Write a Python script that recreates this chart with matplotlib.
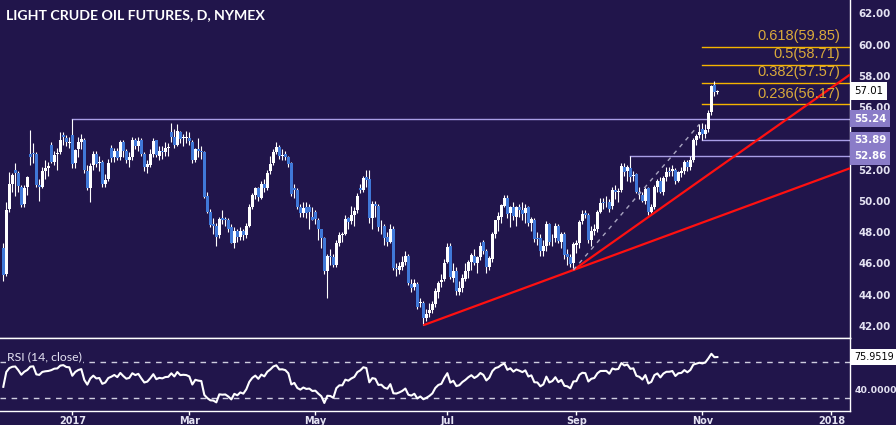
import matplotlib
matplotlib.use("Agg")
import matplotlib.pyplot as plt
import matplotlib.transforms as mtransforms
import numpy as np

# ---------------- data (daily bars, Nov 29 2016 .. Nov 8 2017) ----------------
OPEN = [47.0, 45.3, 49.5, 51.1, 52.0, 51.8, 50.9, 49.8, 50.9, 53.0,
        53.0, 53.0, 51.0, 50.9, 51.9, 52.1, 53.6, 52.5, 53.0, 53.1,
        54.2, 54.0, 53.7, 54.2, 52.4, 53.3, 53.8, 53.9, 51.9, 50.8,
        52.3, 53.0, 52.4, 52.5, 51.1, 51.4, 53.4, 52.8, 53.2, 52.8,
        53.8, 53.2, 52.6, 52.8, 53.9, 53.5, 53.9, 53.0, 52.2, 52.3,
        53.0, 53.9, 52.9, 53.2, 53.1, 53.4, 54.4, 54.1, 53.6, 54.4,
        54.0, 54.0, 54.0, 53.8, 52.6, 53.3, 53.2, 53.1, 50.3, 49.3,
        48.5, 48.4, 47.8, 48.9, 48.8, 48.8, 48.3, 47.3, 48.1, 47.7,
        48.1, 47.8, 48.4, 49.6, 50.4, 50.8, 50.2, 51.1, 50.8, 51.9,
        52.4, 53.15, 53.45, 52.9, 53.0, 52.8, 52.4, 50.8, 50.7, 49.6,
        49.2, 49.6, 49.6, 49.0, 49.3, 48.8, 48.2, 47.6, 45.5, 46.5,
        46.4, 45.9, 47.3, 47.8, 47.9, 48.9, 48.7, 49.1, 49.4, 50.8,
        50.7, 51.5, 51.4, 48.9, 49.8, 49.7, 48.3, 48.4, 47.7, 47.4,
        48.2, 45.7, 45.6, 45.8, 46.1, 46.5, 44.7, 44.5, 44.7, 43.5,
        43.5, 42.5, 42.8, 43.0, 43.4, 44.2, 44.8, 45.0, 46.1, 47.1,
        45.1, 45.5, 44.2, 44.4, 45.0, 45.5, 46.1, 46.5, 46.0, 46.4,
        47.4, 46.8, 45.8, 46.3, 47.9, 48.8, 49.0, 49.7, 50.2, 49.2,
        49.6, 49.0, 49.6, 49.4, 49.2, 49.6, 48.6, 48.8, 47.6, 47.6,
        46.8, 47.1, 48.5, 47.6, 47.6, 48.4, 47.4, 47.9, 46.6, 46.4,
        46.0, 47.2, 47.3, 48.7, 49.2, 49.1, 47.5, 48.1, 48.2, 49.3,
        49.9, 49.9, 49.9, 49.7, 50.7, 50.6, 50.7, 52.2, 51.9, 52.1,
        51.6, 51.7, 50.6, 50.4, 50.0, 50.8, 49.3, 49.6, 50.9, 51.3,
        50.6, 51.5, 51.9, 51.9, 52.0, 51.3, 51.8, 51.9, 52.5, 52.2,
        52.6, 53.9, 54.2, 54.6, 54.3, 54.6, 55.7, 57.4, 56.95]
HIGH = [47.3, 49.9, 51.85, 51.8, 52.45, 51.9, 51.0, 51.0, 51.6, 54.51,
        53.7, 53.1, 51.4, 52.2, 52.6, 52.5, 53.75, 53.2, 53.4, 54.4,
        54.4, 54.2, 54.1, 55.24, 53.3, 54.1, 54.3, 54.0, 52.3, 52.4,
        53.2, 53.2, 52.9, 52.6, 51.7, 52.7, 53.6, 53.4, 53.4, 53.9,
        53.9, 53.3, 53.1, 54.1, 54.0, 54.1, 54.0, 53.1, 52.6, 53.3,
        54.0, 53.9, 53.5, 53.5, 53.8, 53.7, 55.0, 54.6, 54.9, 54.5,
        54.3, 54.5, 54.4, 53.9, 53.4, 54.0, 53.5, 53.2, 50.6, 49.5,
        48.9, 48.6, 49.0, 49.4, 49.0, 48.9, 48.5, 48.3, 48.2, 48.3,
        48.2, 48.6, 49.8, 50.5, 50.9, 50.9, 51.3, 51.4, 52.0, 52.9,
        53.3, 53.8, 53.6, 53.3, 53.2, 52.9, 52.5, 51.1, 50.8, 49.8,
        49.9, 49.9, 49.8, 49.6, 49.4, 48.9, 48.0, 47.7, 46.6, 46.9,
        46.6, 47.5, 48.0, 48.0, 49.1, 49.0, 49.7, 49.6, 50.5, 51.1,
        51.6, 52.0, 52.0, 50.0, 50.0, 49.8, 48.8, 48.5, 48.0, 48.5,
        48.4, 46.0, 46.1, 46.5, 46.8, 46.6, 45.0, 45.0, 44.8, 43.8,
        43.6, 43.1, 43.5, 43.6, 44.4, 44.9, 45.3, 46.3, 47.3, 47.3,
        46.0, 45.8, 44.9, 45.3, 46.0, 46.2, 46.7, 46.9, 46.5, 47.4,
        47.5, 46.9, 46.5, 48.0, 48.8, 49.3, 49.8, 50.4, 50.4, 49.7,
        49.9, 49.7, 49.8, 49.9, 49.8, 49.7, 49.0, 48.9, 48.0, 47.9,
        47.5, 48.7, 48.6, 47.9, 48.6, 48.5, 48.0, 48.0, 46.9, 46.6,
        47.4, 47.5, 48.8, 49.4, 49.4, 49.2, 48.4, 48.5, 49.4, 50.2,
        50.2, 50.3, 50.1, 50.9, 51.0, 50.8, 52.4, 52.4, 52.3, 52.86,
        51.9, 51.8, 50.9, 50.6, 50.9, 50.9, 49.8, 51.0, 51.4, 51.5,
        51.6, 52.2, 52.2, 52.3, 52.1, 51.9, 52.2, 52.6, 52.6, 52.9,
        54.0, 54.3, 54.9, 55.0, 54.9, 55.8, 57.4, 57.69, 57.1]
LOW = [44.9, 45.2, 49.3, 50.6, 50.3, 50.6, 49.6, 49.6, 50.4, 52.3,
       52.4, 50.9, 50.0, 50.8, 51.4, 51.6, 52.4, 52.3, 52.0, 53.0,
       53.6, 53.5, 53.4, 52.1, 52.1, 52.8, 53.3, 51.8, 50.7, 49.9,
       52.0, 52.2, 51.9, 50.9, 50.9, 51.3, 52.5, 52.5, 52.6, 52.6,
       52.8, 52.4, 52.2, 52.6, 53.3, 53.2, 52.9, 51.9, 51.8, 52.2,
       52.8, 52.8, 52.6, 52.7, 52.9, 52.9, 53.8, 53.4, 53.5, 53.7,
       53.5, 53.7, 53.6, 52.4, 52.5, 52.8, 52.7, 50.2, 49.2, 48.3,
       47.9, 47.1, 47.6, 48.5, 48.4, 48.0, 47.3, 47.0, 47.4, 47.5,
       47.5, 47.6, 48.3, 49.5, 50.1, 50.0, 50.1, 50.6, 50.7, 51.7,
       52.3, 53.0, 52.7, 52.6, 52.6, 52.2, 50.3, 50.2, 49.5, 49.0,
       49.0, 48.9, 48.2, 48.8, 48.5, 47.5, 47.0, 45.3, 43.76, 45.9,
       45.8, 45.8, 47.1, 47.4, 47.8, 48.2, 48.5, 48.4, 49.2, 50.5,
       50.6, 50.9, 48.6, 48.2, 49.0, 48.1, 47.9, 47.2, 47.1, 47.3,
       45.6, 45.2, 45.3, 45.6, 45.9, 44.6, 44.2, 44.3, 43.1, 43.2,
       42.05, 42.3, 42.6, 42.8, 43.2, 43.8, 44.5, 44.9, 46.0, 45.0,
       44.8, 44.0, 44.0, 44.2, 44.9, 45.1, 45.6, 45.9, 45.4, 46.2,
       46.6, 45.4, 45.6, 46.1, 47.6, 48.1, 48.6, 49.6, 48.9, 48.3,
       48.8, 48.4, 49.0, 48.8, 48.6, 48.4, 48.1, 47.4, 47.2, 46.5,
       46.5, 46.8, 47.2, 47.1, 47.4, 47.3, 47.0, 46.3, 45.9, 45.8,
       45.58, 46.7, 47.0, 48.5, 48.9, 47.3, 47.1, 47.8, 48.0, 49.2,
       49.5, 49.6, 49.3, 49.5, 50.1, 49.9, 50.6, 51.6, 51.3, 51.2,
       51.3, 50.5, 50.1, 49.9, 49.8, 49.1, 49.2, 49.5, 50.6, 50.5,
       50.4, 51.3, 51.6, 51.6, 51.1, 51.2, 51.5, 51.7, 51.9, 52.0,
       52.5, 53.6, 54.0, 53.89, 54.0, 54.4, 55.5, 56.7, 56.85]
CLOSE = [45.23, 49.44, 51.06, 51.68, 51.79, 50.93, 49.77, 50.84, 51.50, 52.83,
         52.98, 51.04, 50.90, 51.90, 52.12, 52.23, 52.49, 52.95, 53.02, 53.90,
         54.06, 53.77, 53.72, 52.33, 53.26, 53.76, 53.99, 51.96, 50.82, 52.25,
         53.01, 52.37, 52.48, 51.08, 51.37, 52.42, 52.75, 53.18, 52.75, 53.78,
         53.17, 52.63, 52.81, 53.88, 53.54, 53.83, 53.01, 52.17, 52.34, 53.00,
         53.86, 52.93, 53.20, 53.11, 53.36, 53.40, 54.06, 53.59, 54.45, 53.99,
         54.05, 54.01, 53.83, 52.61, 53.33, 53.20, 53.14, 50.28, 49.28, 48.49,
         48.40, 47.72, 48.86, 48.75, 48.78, 48.22, 47.34, 48.10, 47.70, 48.10,
         47.80, 48.40, 49.60, 50.35, 50.80, 50.24, 51.10, 50.80, 51.80, 52.36,
         53.15, 53.47, 52.87, 52.90, 52.79, 52.36, 50.44, 50.71, 49.62, 49.23,
         49.56, 49.25, 49.30, 48.80, 48.84, 48.20, 47.60, 45.52, 46.50, 46.43,
         45.88, 47.33, 47.83, 47.84, 48.85, 48.66, 49.07, 49.35, 50.33, 50.73,
         51.47, 51.36, 48.90, 49.80, 49.66, 48.32, 48.36, 47.66, 47.40, 48.19,
         45.72, 45.64, 45.83, 46.08, 46.46, 44.73, 44.46, 44.74, 43.20, 43.51,
         42.53, 42.74, 43.01, 43.38, 44.24, 44.74, 44.93, 46.04, 47.07, 45.13,
         45.52, 44.23, 44.40, 45.04, 45.49, 46.08, 46.54, 46.02, 46.40, 47.12,
         46.79, 45.77, 46.34, 47.89, 48.75, 49.04, 49.71, 50.17, 49.16, 49.59,
         49.03, 49.58, 49.39, 49.17, 49.56, 48.59, 48.82, 47.59, 47.55, 46.78,
         47.09, 48.51, 47.37, 47.64, 48.41, 47.43, 47.87, 46.57, 46.44, 45.96,
         47.23, 47.29, 48.66, 49.16, 49.09, 47.48, 48.07, 48.23, 49.30, 49.89,
         49.89, 49.91, 49.48, 50.69, 50.55, 50.66, 52.22, 51.88, 52.14, 51.56,
         51.67, 50.58, 50.42, 49.98, 50.79, 49.29, 49.58, 50.92, 51.30, 50.60,
         51.45, 51.87, 51.88, 52.04, 51.29, 51.84, 51.90, 52.47, 52.18, 52.64,
         53.90, 54.15, 54.38, 54.30, 54.54, 55.64, 57.35, 56.95, 57.01]

X_TICK_BARS = [23, 62, 104, 148, 191, 233, 276]
X_TICK_LABELS = ['2017', 'Mar', 'May', 'Jul', 'Sep', 'Nov', '2018']
PRICE_TICKS = [42, 44, 46, 48, 50, 52, 56, 58, 60, 62]   # 54.00 is hidden under the level boxes

LEVELS = [55.24, 53.89, 52.86]
LEVEL_START = [23, 233, 209]
FIB_RATIOS = ['0.236', '0.382', '0.5', '0.618']
FIB_PRICES = [56.17, 57.57, 58.71, 59.85]
FIB_START = 233
TREND1 = [(140, 42.05), (190, 45.58)]
TREND2 = [(190, 45.58), (215, 48.97)]
DASHED = [(190, 45.58), (232, 54.90)]
LAST_PRICE = 57.01
RSI_LAST = 75.9519
RSI_SEED = (0.34, 0.46)   # avg gain / avg loss carried in from before the window

# ---------------- style ----------------
BG = '#21154b'
UP = '#ffffff'
DOWN = '#4078d8'
TXT = '#e4e2f2'
LVL_LINE = '#a99ee6'
LVL_BOX = '#8a7cc8'
FIB_LINE = '#f5b400'
FIB_TXT = '#d9a93b'
NUMFONT = 'DejaVu Sans'

W, H = 896, 425
fig = plt.figure(figsize=(W / 100, H / 100), dpi=100, facecolor=BG)
ax = fig.add_axes([0, 1 - 338 / H, 850 / W, 338 / H], facecolor=BG)
ar = fig.add_axes([0, 1 - 411 / H, 850 / W, 73 / H], facecolor=BG, sharex=ax)

n = len(CLOSE)
x = np.arange(n)
o = np.array(OPEN); c = np.array(CLOSE); hi = np.array(HIGH); lo = np.array(LOW)
up = c >= o
cols = np.where(up, UP, DOWN)
ax.vlines(x, lo, hi, colors='#ffffff', lw=0.8, zorder=3)
body = np.maximum(np.abs(c - o), 0.06)
ax.bar(x, body, bottom=np.minimum(o, c), width=0.86, color=cols, linewidth=0, zorder=4)

XMIN, XMAX = -1.1, 282.2
ax.set_xlim(XMIN, XMAX)
ax.set_ylim(42 - 12 / 15.635, 62 + 13.3 / 15.635)

# horizontal levels
for lv, st in zip(LEVELS, LEVEL_START):
    ax.plot([st, XMAX], [lv, lv], color=LVL_LINE, lw=1.0, zorder=2)
# fib levels
for r, p in zip(FIB_RATIOS, FIB_PRICES):
    ax.plot([FIB_START, XMAX], [p, p], color=FIB_LINE, lw=1.0, zorder=2)
    ax.text(279.0, p + 0.22, f'{r}({p:.2f})', color=FIB_TXT, fontsize=10.5,
            family='Liberation Sans', ha='right', va='bottom', zorder=6)
# trend lines
for (x1, y1), (x2, y2) in (TREND1, TREND2):
    s = (y2 - y1) / (x2 - x1)
    ax.plot([x1, XMAX], [y1, y1 + s * (XMAX - x1)], color='#ff1010', lw=1.6,
            zorder=5, solid_capstyle='butt')
(dx1, dy1), (dx2, dy2) = DASHED
ax.plot([dx1, dx2], [dy1, dy2], color='#a8a4c0', lw=1.0, ls=(0, (3, 3.5)), zorder=5)

# axes styling
for a in (ax, ar):
    a.spines['left'].set_visible(False)
    for s in ('right', 'bottom', 'top'):
        a.spines[s].set_color('#ffffff')
        a.spines[s].set_linewidth(1.0)
ax.spines['top'].set_visible(False)
ax.yaxis.tick_right()
ax.set_yticks(PRICE_TICKS)
ax.set_yticklabels([f'{v:.2f}' for v in PRICE_TICKS])
ax.tick_params(axis='y', length=0, pad=6, labelsize=7.4, labelcolor=TXT)
for t in ax.get_yticklabels():
    t.set_fontweight('bold'); t.set_family(NUMFONT)
ax.tick_params(axis='x', which='both', length=0, labelbottom=False)

blend = mtransforms.blended_transform_factory(ax.transAxes, ax.transData)
for lv in LEVELS:
    ax.text(1.0045, lv, f'{lv:.2f}', transform=blend, color='#ffffff', fontsize=7.4,
            fontweight='bold', family=NUMFONT, ha='left', va='center', zorder=10,
            clip_on=False,
            bbox=dict(boxstyle='square,pad=0.34', fc=LVL_BOX, ec='none'))
ax.text(1.0045, LAST_PRICE, f'{LAST_PRICE:.2f}', transform=blend, color='#000000',
        fontsize=7.4, family=NUMFONT, ha='left', va='center', zorder=10,
        clip_on=False, bbox=dict(boxstyle='square,pad=0.38', fc='#ffffff', ec='none'))

fig.text(6 / W, 1 - 19 / H, 'LIGHT CRUDE OIL FUTURES, D, NYMEX', color='#ffffff',
         fontsize=10.2, family='Lato', fontweight='bold', ha='left', va='baseline')

# ---------------- RSI ----------------
ag, al = RSI_SEED
rsi = []
for i in range(n):
    if i > 0:
        d = CLOSE[i] - CLOSE[i - 1]
        ag = (ag * 13 + max(d, 0)) / 14
        al = (al * 13 + max(-d, 0)) / 14
    rsi.append(100 - 100 / (1 + ag / al))
ar.plot(x, rsi, color='#ffffff', lw=1.5, zorder=4)
for lvl in (70, 30):
    ar.axhline(lvl, color='#cfcde0', lw=1.0, ls=(0, (4, 4)), zorder=2)
ar.set_ylim(15.4, 97.2)
ar.yaxis.tick_right()
ar.set_yticks([40])
ar.set_yticklabels(['40.0000'])
ar.tick_params(axis='y', length=0, pad=3.2, labelsize=6.7, labelcolor=TXT)
for t in ar.get_yticklabels():
    t.set_fontweight('bold'); t.set_family(NUMFONT)
blend_r = mtransforms.blended_transform_factory(ar.transAxes, ar.transData)
ar.text(1.0045, RSI_LAST, f'{RSI_LAST:.4f}', transform=blend_r, color='#000000',
        fontsize=6.9, family=NUMFONT, ha='left', va='center', zorder=10, clip_on=False,
        bbox=dict(boxstyle='square,pad=0.3', fc='#ffffff', ec='none'))
ar.text(7 / 850, 1 - 19 / 73, 'RSI (14, close)', transform=ar.transAxes, color=TXT,
        fontsize=8.8, family='Lato', ha='left', va='center', zorder=6,
        bbox=dict(boxstyle='square,pad=0.1', fc=BG, ec='none'))
ar.set_xticks(X_TICK_BARS)
ar.set_xticklabels(X_TICK_LABELS)
ar.tick_params(axis='x', length=3, width=1, color='#ffffff', pad=0.6, labelsize=7.0,
               labelcolor=TXT)
for t in ar.get_xticklabels():
    t.set_fontweight('bold'); t.set_family(NUMFONT)
ar.set_xlim(XMIN, XMAX)

fig.savefig('out.png', dpi=100, facecolor=BG)
